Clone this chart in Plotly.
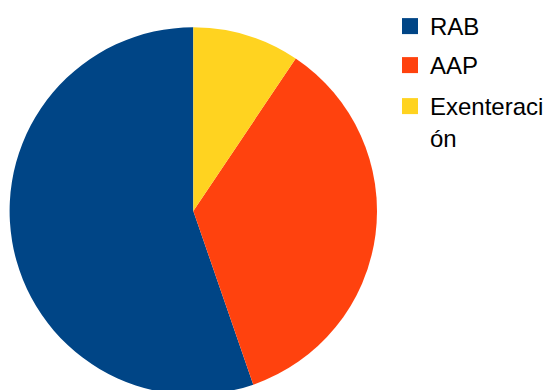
import plotly.graph_objects as go

labels = ["RAB", "AAP", "Exenteraci<br>ón"]
values = [47, 30, 8]
colors = ["#004586", "#ff420e", "#ffd320"]

W, H = 554, 400
cx, cy, r = 193.3, 211.0, 183.7

fig = go.Figure()
fig.add_trace(go.Pie(
    labels=labels,
    values=values,
    sort=False,
    direction="counterclockwise",
    rotation=360 - 360 * values[0] / sum(values),
    marker=dict(colors=colors, line=dict(width=0)),
    textinfo="none",
    hoverinfo="label+percent",
    showlegend=False,
    domain=dict(x=[(cx - r) / W, (cx + r) / W],
                y=[(H - cy - r) / H, (H - cy + r) / H]),
))

legend_names = ["legend", "legend2", "legend3"]
legend_tops = [4, 43, 84]

# legend entries (square swatches)
for lab, col, lg in zip(labels, colors, legend_names):
    fig.add_trace(go.Scatter(
        x=[None], y=[None], mode="markers", name=lab,
        legend=lg, showlegend=True,
        marker=dict(symbol="square", size=16, color=col),
    ))

legend_style = dict(
    xanchor="left", yanchor="top", x=390 / W,
    font=dict(family="Liberation Sans, Arial, sans-serif", size=24, color="black"),
    bgcolor="rgba(0,0,0,0)",
    itemsizing="trace",
    valign="top",
)

fig.update_layout(
    width=W, height=H,
    margin=dict(l=0, r=0, t=0, b=0),
    paper_bgcolor="white",
    plot_bgcolor="white",
    xaxis=dict(visible=False),
    yaxis=dict(visible=False),
    showlegend=True,
    **{lg: dict(legend_style, y=1 - top / H) for lg, top in zip(legend_names, legend_tops)},
)

fig.write_html("out.html", post_script="document.documentElement.style.overflow='hidden';document.body.style.overflow='hidden';")
